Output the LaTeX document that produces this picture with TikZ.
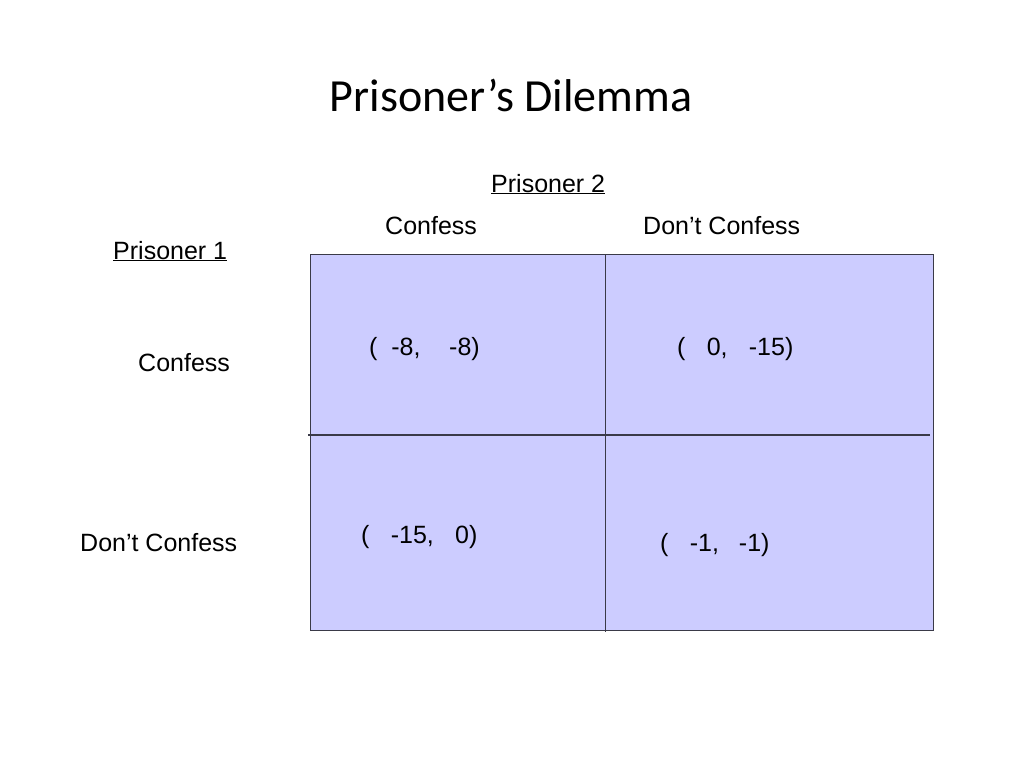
\documentclass[tikz,border=0pt]{standalone}
\usepackage{fontspec}
\setmainfont{Liberation Sans}
\newfontfamily\titlefont{Carlito}
\definecolor{cellfill}{HTML}{CCCCFF}
\definecolor{gridline}{HTML}{3A3A48}
\begin{document}
\begin{tikzpicture}[x=1pt,y=-1pt,
  lbl/.style={anchor=base west,inner sep=0pt,font=\fontsize{25}{30}\selectfont},
  pay/.style={anchor=base west,inner sep=0pt,font=\fontsize{25}{30}\selectfont},
  gridln/.style={draw=gridline,line width=1.1pt}]
\useasboundingbox[fill=white] (0,0) rectangle (1024,768);
% matrix
\node[draw=gridline,line width=1.1pt,fill=cellfill,minimum width=623pt,minimum height=376pt,inner sep=0pt,anchor=north west] (box) at (310,254) {};
\coordinate (vt) at (605.5,254);
\coordinate (vb) at (605.5,632);
\coordinate (hl) at (308,435);
\coordinate (hr) at (930,435);
\draw[gridln] (vt) -- (vb);
\draw[gridln] (hl) -- (hr);
% title
\node[anchor=base,inner sep=0pt,font=\titlefont\fontsize{46}{55}\selectfont] (title) at (511,111) {Prisoner’s Dilemma};
% headers
\node[lbl] (p2) at (491,192) {\underline{Prisoner 2}};
\node[lbl] (c1) at (385,234) {Confess};
\node[lbl] (c2) at (643,234) {Don’t Confess};
\node[lbl] (p1) at (113,259) {\underline{Prisoner 1}};
\node[lbl] (r1) at (138,371) {Confess};
\node[lbl] (r2) at (80,551) {Don’t Confess};
% payoffs
\node[pay] (a) at (369,355) {(\hspace{0.55em}-8,\hspace{1.15em}-8)};
\node[pay] (b) at (677,355) {(\hspace{0.85em}0,\hspace{0.85em}-15)};
\node[pay] (c) at (361,543) {(\hspace{0.85em}-15,\hspace{0.85em}0)};
\node[pay] (d) at (660,551) {(\hspace{0.85em}-1,\hspace{0.8em}-1)};
\end{tikzpicture}
\end{document}
